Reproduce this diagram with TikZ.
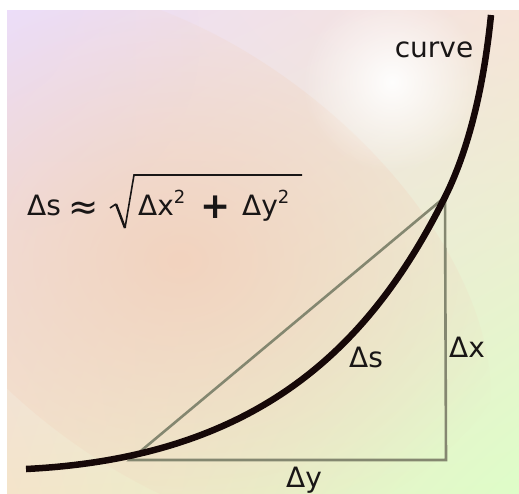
\documentclass[tikz,border=0pt]{standalone}
\usepackage{fontspec}
\setmainfont{DejaVu Sans}
\usetikzlibrary{fadings,shadings}
\tikzfading[name=glow, inner color=transparent!0, outer color=transparent!100]
\definecolor{lav}{RGB}{236,222,250}
\definecolor{ur}{RGB}{246,228,216}
\definecolor{ll}{RGB}{244,228,202}
\definecolor{lr}{RGB}{222,253,200}
\definecolor{peach}{RGB}{243,208,186}
\definecolor{curvec}{RGB}{22,8,8}
\definecolor{tric}{RGB}{132,135,112}
\definecolor{txt}{RGB}{25,22,22}
\begin{document}
\begin{tikzpicture}[x=1pt,y=-1pt,
  lbl/.style={font=\fontsize{28}{32}\selectfont, text=txt, inner sep=0pt, anchor=base},
  tri/.style={draw=tric, line width=2.6pt, line join=miter},
  crv/.style={draw=curvec, line width=6.5pt},
  radical/.style={draw=txt, line width=1.6pt, line join=miter}]
\useasboundingbox (0,0) rectangle (519,493);
\fill[white] (0,0) rectangle (519,493);
\shade[upper left=lav, upper right=ur, lower left=ll, lower right=lr] (7,10) rectangle (519,493);
\begin{scope}
\clip (7,10) rectangle (519,493);
\fill[lav, opacity=0.7, path fading=glow] (10,40) circle (190);
\fill[peach, opacity=0.85, path fading=glow, rotate around={-38:(180,260)}] (180,260) ellipse (360 and 210);
\fill[white, opacity=0.95, path fading=glow] (392,82) circle (90);
\end{scope}
\coordinate (A) at (130,460);
\coordinate (B) at (445,197);
\coordinate (C) at (446,460);
\coordinate (S) at (26,469);
\coordinate (E) at (491,15);
\draw[tri] (A) -- (B) -- (C) -- cycle;
\draw[crv] (S) .. controls (261,457.3) and (371.2,344.5) .. (B)
               .. controls (471.8,143.4) and (485,75) .. (E);
\node[lbl] (curve) at (434,57) {curve};
\node[lbl] (ds) at (366,367) {Δs};
\node[lbl] (dx) at (467,357) {Δx};
\node[lbl] (dy) at (304,487) {Δy};
% formula
\node[lbl, anchor=base west] (lhs) at (27,215) {Δs};
\node[lbl, anchor=base west, font=\fontsize{36}{36}\selectfont] (approx) at (68,219) {≈};
\node[lbl, anchor=base west] (dx2) at (138,215) {Δx\raisebox{12pt}{\fontsize{18}{18}\selectfont 2}};
\node[lbl, anchor=base west, font=\fontsize{36}{36}\bfseries] (plus) at (200,218) {+};
\node[lbl, anchor=base west] (dy2) at (242,215) {Δy\raisebox{12pt}{\fontsize{18}{18}\selectfont 2}};
\draw[radical] (110,208) -- (116,204);
\draw[radical, line width=2.4pt] (116,204) -- (125,228);
\draw[radical] (125,228) -- (134,175) -- (302,175);
\end{tikzpicture}
\end{document}
